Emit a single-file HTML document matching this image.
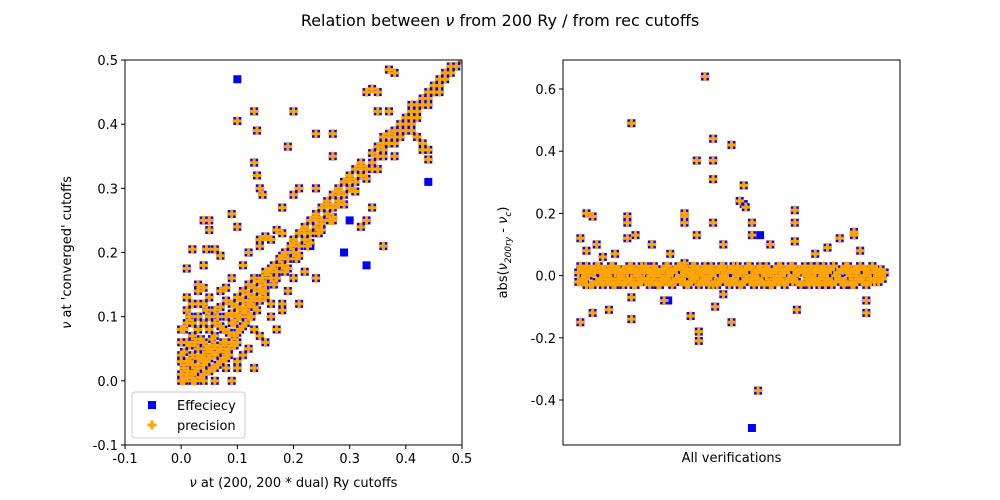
<!DOCTYPE html>
<html><head><meta charset="utf-8"><style>
html,body{margin:0;padding:0;background:#fff}
svg{display:block;font-family:"DejaVu Sans","Liberation Sans",sans-serif}
</style></head><body>
<svg id="fig" width="1000" height="500" viewBox="0 0 1000 500" xmlns="http://www.w3.org/2000/svg">
<rect width="1000" height="500" fill="#fff"/>
<text x="500" y="26" text-anchor="middle" font-size="16">Relation between <tspan font-style="italic">ν</tspan> from 200 Ry / from rec cutoffs</text>
<g id="left"></g>
<g id="right"></g>
</svg>
<script>
// ---- Left chart data ----
const leftTicks = [-0.1, 0, 0.1, 0.2, 0.3, 0.4, 0.5];
const pairX = [0,0.005,0.01,0.015,0.02,0.02,0.025,0.03,0.03,0.035,0.04,0.04,0.045,0.05,0.05,0.055,0.06,0.06,0.065,0.07,0.07,0.075,0.08,0.08,0.085,0.09,0.09,0.095,0.1,0.1,0.105,0.11,0.11,0.115,0.12,0.12,0.125,0.13,0.13,0.135,0.14,0.145,0.15,0.15,0.155,0.16,0.165,0.17,0.175,0.18,0.185,0.19,0.195,0.2,0.2,0.21,0.21,0.22,0.22,0.23,0.23,0.24,0.24,0.25,0.25,0.26,0.26,0.27,0.27,0.28,0.28,0.29,0.29,0.3,0.3,0.31,0.31,0.32,0.32,0.33,0.34,0.34,0.35,0.36,0.36,0.37,0.38,0.38,0.39,0.4,0.4,0.41,0.42,0.42,0.43,0.44,0.44,0.45,0.46,0.46,0.47,0.48,0.48,0.49,0.5,
0,0,0.005,0.01,0.01,0.02,0.03,0.03,0.04,0.05,0.06,0.02,0.04,0.06,0.08,0.1,0.12,0.14,0.16,0.18,0.07,0.09,0.11,0.12,0.14,0.16,0.18,0.1,0.13,0,0.005,
0.37,0.38,0.1,0.13,0.135,0.13,0.135,0.14,0.145,0.19,0.2,0.24,0.27,0.33,0.34,0.35,0.35,0.37,0.41,0.42,0.42,0.43,0.41,0.44,0.41,0.05,0.04,0.05,0.09,0.1,0.06,0.02,0.045,0.07,0.04,0.01,0.03,0.04,0.08,0.14,0.15,0.17,0.18,0.2,0.21,0.24,0.27,0.29,0.28,0.25,0.27,0.33,0.34,0.32,0.36,0.38,0.39,0.43,0.44,0.36,0.35,0.22,0.2,0.18,0.16,0.17,0.15,0.1,0.11,0.08,0.06,0.09,0.13,0.04,0.24,0.21,0.19];
const pairY = [0,0.02,0.005,0.03,0.01,0.04,0,0.02,0.05,0.035,0.01,0.06,0.03,0.05,0.08,0.02,0.04,0.07,0.1,0.05,0.03,0.08,0.06,0.1,0.04,0.09,0.12,0.07,0.1,0.13,0.08,0.11,0.14,0.09,0.12,0.15,0.1,0.13,0.16,0.11,0.14,0.16,0.15,0.13,0.17,0.16,0.18,0.17,0.19,0.18,0.2,0.19,0.21,0.2,0.22,0.21,0.23,0.22,0.24,0.23,0.25,0.24,0.26,0.25,0.27,0.26,0.28,0.27,0.29,0.28,0.3,0.29,0.31,0.3,0.32,0.31,0.33,0.32,0.34,0.33,0.34,0.355,0.35,0.36,0.37,0.37,0.38,0.39,0.39,0.4,0.41,0.41,0.42,0.43,0.43,0.44,0.45,0.45,0.46,0.47,0.47,0.48,0.49,0.49,0.5,
0.06,0.04,0.08,0.09,0.06,0.07,0.1,0.08,0.12,0.13,0.11,0,0,0,0.02,0.03,0.05,0.07,0.1,0.12,0.14,0.16,0.18,0.2,0.21,0.22,0.23,0.06,0.08,0.01,0,
0.485,0.48,0.405,0.42,0.39,0.34,0.32,0.3,0.29,0.365,0.42,0.385,0.385,0.45,0.455,0.45,0.42,0.42,0.43,0.41,0.38,0.36,0.4,0.345,0.39,0.235,0.25,0.25,0.26,0.24,0.205,0.205,0.205,0.195,0.18,0.175,0.15,0.145,0.145,0.22,0.225,0.235,0.27,0.29,0.3,0.3,0.35,0.31,0.275,0.245,0.25,0.25,0.27,0.24,0.21,0.35,0.38,0.37,0.36,0.38,0.33,0.17,0.16,0.11,0.12,0.08,0.06,0.02,0.04,0.035,0.02,0,0.02,0.04,0.16,0.12,0.14];
const bandX = [0.15,0.16,0.17,0.18,0.19,0.2,0.21,0.22,0.23,0.24,0.25,0.26,0.27,0.28,0.29,0.3,0.31,0.32,0.33,0.34,0.35,0.36,0.37,0.38,0.39,0.4,0.41,0.42,0.43,0.44,0.45,0.46,0.47,0.15,0.165,0.185,0.205,0.225,0.245,0.265,
0,0,0.01,0.01,0.012,0.02,0.02,0.025,0.03,0.03,0.035,0.04,0.04,0.045,0.05,0.05,0.05,0.055,0.06,0.06,0.065,0.07,0.07,0.075,0.08,0.08,0.085,0.09,0.09,0.095,0.1,0.1,0.105,0.11,0.11,0.115,0.12,0.12,0.125,0.13,0.13,0.14,0.14,0.145,0.005,0.015,0.025,0.035,0.045,0.055,0.065,0.075,0.085,0.095,0.02,0.01,0.03,0.015];
const bandY = [0.14,0.175,0.16,0.195,0.175,0.215,0.195,0.235,0.215,0.255,0.235,0.275,0.255,0.295,0.275,0.315,0.295,0.335,0.315,0.33,0.365,0.35,0.385,0.37,0.4,0.39,0.42,0.41,0.44,0.43,0.46,0.45,0.48,0.17,0.15,0.17,0.19,0.21,0.23,0.25,
0.03,0.08,0.03,0.11,0.015,0.025,0.09,0.06,0.035,0.12,0.065,0.025,0.09,0.11,0.015,0.035,0.1,0.065,0.09,0.055,0.025,0.085,0.115,0.06,0.045,0.125,0.075,0.06,0.105,0.09,0.075,0.115,0.1,0.085,0.125,0.11,0.1,0.135,0.125,0.115,0.145,0.125,0.155,0.14,0.045,0.055,0.015,0.005,0.05,0.045,0.045,0.035,0.05,0.055,0.12,0.13,0.14,0.1];
const effOnlyX = [0.1,0.33,0.44,0.29,0.3,0.23];
const effOnlyY = [0.47,0.18,0.31,0.2,0.25,0.21];

// ---- Right chart data ----
const rightTicks = [-0.4, -0.2, 0, 0.2, 0.4, 0.6];
const baseVal = [0.01,-0.02,0.02,-0.01,0.03,0,-0.03,0.02,0.01,-0.02,0.03,-0.01,0.02,0,-0.02,0.01,0.03,-0.03,0.01,0.02,-0.01,0,0.02,-0.02,0.01,0.03,-0.01,0.02,-0.03,0,0.01,-0.02,0.02,0.03,-0.01,0.01,-0.02,0,0.02,-0.03,0.01,0.02,-0.01,0.03,0,-0.02,0.01,0.02,-0.01,0.03,-0.02,0,0.01,0.02,-0.03,0.01,0.03,-0.01,0,0.02,-0.02,0.01,0.03,-0.01,0.02,0,-0.03,0.01,0.02,-0.02,0.03,0,0.01,-0.01,0.02,-0.02,0.03,0.01,0,-0.03,0.02,0.01,-0.01,0.03,-0.02,0,0.02,0.01,-0.01,0.03,-0.02,0.01,0,0.02,-0.03,0.01,0.02,-0.01,0.03,0,-0.02,0.01,0.02,-0.01,0.03,-0.02,0,0.01,0.02,-0.03,0.01,0.03,-0.01,0,0.02,-0.02,0.01,0.03,-0.01,0.02,0,-0.03,0.01,0.02,-0.02,0.03,0,0.01,-0.01,0.02,-0.02,0.03,0.01,0,-0.03,0.02,0.01,-0.01,0.03,-0.02,0,0.02,0.01,-0.01,0.03,-0.02,0.01,0,0.02,-0.01,0.01];
const baseVal2 = [-0.02,0.03,-0.01,0.02,-0.03,0.01,0.02,-0.03,0.01,0.03,-0.02,0.01,-0.03,0.02,0.01,-0.02,-0.01,0.03,-0.03,-0.02,0.02,0.01,-0.03,0.02,-0.01,-0.02,0.03,-0.03,0.01,0.02,-0.02,0.03,-0.01,-0.02,0.02,-0.03,0.01,0.03,-0.02,0.01,-0.03,-0.01,0.02,-0.02,0.03,0.01,-0.03,-0.02,0.02,-0.01,0.03,0.02,-0.02,-0.03,0.01,-0.02,-0.01,0.03,0.02,-0.03,0.01,-0.02,-0.01,0.02,-0.03,0.03,0.01,-0.02,-0.03,0.02,-0.01,0.03,-0.02,0.01,-0.03,0.02,-0.01,-0.02,0.03,0.01,-0.03,-0.02,0.02,-0.01,0.03,0.02,-0.03,-0.01,0.02,-0.02,0.01,-0.03,0.03,-0.02,0.01,-0.03,-0.01,0.02,-0.02,0.03,0.01,-0.03,-0.02,0.02,-0.01,0.03,0.02,-0.02,0.01,-0.03,0.02,0.01,-0.02,-0.03,0.03,-0.01,-0.02,0.02,-0.03,0.01,0.03,-0.02,-0.01,0.02,-0.03,0.03,-0.02,0.01,-0.01,0.02,-0.03,-0.02,0.03,0.01,-0.02,-0.03,0.02,-0.01,0.03,-0.02,0.02,-0.03,0.01,-0.02,0.03,-0.01,0.02,-0.02,0.01,-0.01];
const outIdx = [1,1,4,4,7,7,9,12,15,18,24,24,24,26,26,26,28,36,42,45,52,52,52,52,55,58,58,59,59,62,66,66,66,66,67,71,71,75,75,79,81,82,85,85,88,94,106,106,106,107,116,122,128,130,135,135,138,141,141];
const outVal = [-0.15,0.12,0.2,0.08,0.19,-0.12,0.1,0.06,-0.11,0.07,0.19,0.17,0.12,-0.14,0.49,-0.07,0.13,0.1,-0.08,0.07,0.2,0.19,0.17,0.04,-0.13,0.37,0.13,-0.21,-0.18,0.64,0.44,0.31,0.37,0.17,-0.1,0.1,-0.06,0.42,-0.15,0.24,0.29,0.22,0.17,0.13,-0.37,0.1,0.21,0.17,0.11,-0.11,0.07,0.09,0.12,-0.03,0.14,0.13,0.08,-0.12,-0.08];
const effOnlyIdx = [85,89,75,81,44];
const effOnlyVal = [-0.49,0.13,0.42,0.23,-0.08];

const NS = "http://www.w3.org/2000/svg";
function mk(tag, attrs, parent){const e=document.createElementNS(NS,tag);for(const k in attrs)e.setAttribute(k,attrs[k]);parent.appendChild(e);return e;}
function square(g,x,y,name){const r=mk('rect',{x:x-4,y:y-4,width:8,height:8,fill:'#0000ff'},g);

}
function plus(g,x,y,name){const p=mk('path',{d:`M${x-4.5},${y}H${x+4.5}M${x},${y-4.5}V${y+4.5}`,stroke:'#ffa500','stroke-width':3,fill:'none'},g);

}

// Left panel
const L = document.getElementById('left');
const lx0=125,lx1=462,ly0=60,ly1=445;
const lxs = v => lx0 + (v+0.1)/0.6*(lx1-lx0);
const lys = v => ly1 - (v+0.1)/0.6*(ly1-ly0);
const lClip = mk('clipPath',{id:'lclip'},L); mk('rect',{x:lx0,y:ly0,width:lx1-lx0,height:ly1-ly0},lClip);
const lMarks = mk('g',{'clip-path':'url(#lclip)'},L);


for(let i=0;i<pairX.length;i++) square(lMarks,lxs(pairX[i]),lys(pairY[i]),'efficiency-point');
for(let i=0;i<bandX.length;i++) square(lMarks,lxs(bandX[i]),lys(bandY[i]),'efficiency-point');
for(let i=0;i<effOnlyX.length;i++) square(lMarks,lxs(effOnlyX[i]),lys(effOnlyY[i]),'efficiency-point');
for(let i=0;i<pairX.length;i++) plus(lMarks,lxs(pairX[i]),lys(pairY[i]),'precision-point');
for(let i=0;i<bandX.length;i++) plus(lMarks,lxs(bandX[i]),lys(bandY[i]),'precision-point');
const lFrame = mk('rect',{x:lx0,y:ly0,width:lx1-lx0,height:ly1-ly0,fill:'none',stroke:'#000','stroke-width':1},L);


leftTicks.forEach(t=>{
  const x=lxs(t), y=lys(t);
  mk('line',{x1:x,y1:ly1,x2:x,y2:ly1+4,stroke:'#000'},L);
  const tx=mk('text',{x:x,y:ly1+18,'text-anchor':'middle','font-size':13},L); tx.textContent=t.toFixed(1);
  
  
  mk('line',{x1:lx0-4,y1:y,x2:lx0,y2:y,stroke:'#000'},L);
  const ty=mk('text',{x:lx0-7,y:y+5,'text-anchor':'end','font-size':13},L); ty.textContent=t.toFixed(1);
  
  
});
const lxl=mk('text',{x:(lx0+lx1)/2,y:487,'text-anchor':'middle','font-size':13},L);
lxl.innerHTML='<tspan font-style="italic">ν</tspan> at (200, 200 * dual) Ry cutoffs';


const lyl=mk('text',{x:0,y:0,'text-anchor':'middle','font-size':13,transform:`translate(71,${(ly0+ly1)/2}) rotate(-90)`},L);
lyl.innerHTML='<tspan font-style="italic">ν</tspan> at \'converged\' cutoffs';


// legend
const lg = mk('g',{},L);


mk('rect',{x:132,y:392,width:113,height:46,rx:3,fill:'#fff',stroke:'#ccc','fill-opacity':0.8},lg);
square(lg,152,405,'legend-efficiency-marker');
const le1=mk('text',{x:177,y:410,'font-size':13},lg); le1.textContent='Effeciecy';


plus(lg,152,425,'legend-precision-marker');
const le2=mk('text',{x:177,y:430,'font-size':13},lg); le2.textContent='precision';



// Right panel
const R = document.getElementById('right');
const rx0=563,rx1=900,ry0=60,ry1=445;
const N = baseVal.length;
const rxs = i => rx0 + (i + 0.05*(N-1))/(1.1*(N-1))*(rx1-rx0);
const rys = v => 400 - (v+0.4)/1.0*(400-89);
const rMarks = mk('g',{},R);


for(let i=0;i<N;i++) square(rMarks,rxs(i),rys(baseVal[i]),'efficiency-point');
for(let i=0;i<baseVal2.length;i++) square(rMarks,rxs(i),rys(baseVal2[i]),'efficiency-point');
for(let i=0;i<outIdx.length;i++) square(rMarks,rxs(outIdx[i]),rys(outVal[i]),'efficiency-point');
for(let i=0;i<effOnlyIdx.length;i++) square(rMarks,rxs(effOnlyIdx[i]),rys(effOnlyVal[i]),'efficiency-point');
for(let i=0;i<N;i++) plus(rMarks,rxs(i),rys(baseVal[i]),'precision-point');
for(let i=0;i<baseVal2.length;i++) plus(rMarks,rxs(i),rys(baseVal2[i]),'precision-point');
for(let i=0;i<outIdx.length;i++) plus(rMarks,rxs(outIdx[i]),rys(outVal[i]),'precision-point');
const rFrame = mk('rect',{x:rx0,y:ry0,width:rx1-rx0,height:ry1-ry0,fill:'none',stroke:'#000','stroke-width':1},R);


rightTicks.forEach(t=>{
  const y=rys(t);
  mk('line',{x1:rx0-4,y1:y,x2:rx0,y2:y,stroke:'#000'},R);
  const ty=mk('text',{x:rx0-7,y:y+5,'text-anchor':'end','font-size':13},R); ty.textContent=t.toFixed(1);
  
  
});
const rxl=mk('text',{x:(rx0+rx1)/2,y:462,'text-anchor':'middle','font-size':13},R);
rxl.textContent='All verifications';


const ryl=mk('text',{x:0,y:0,'text-anchor':'middle','font-size':13,transform:`translate(507,${(ry0+ry1)/2}) rotate(-90)`},R);
ryl.innerHTML='abs(<tspan font-style="italic">ν</tspan><tspan font-size="9" dy="4" font-style="italic">200ry</tspan><tspan dy="-4"> - </tspan><tspan font-style="italic">ν</tspan><tspan font-size="9" dy="4" font-style="italic">c</tspan><tspan dy="-4">)</tspan>';


</script>
</body></html>
